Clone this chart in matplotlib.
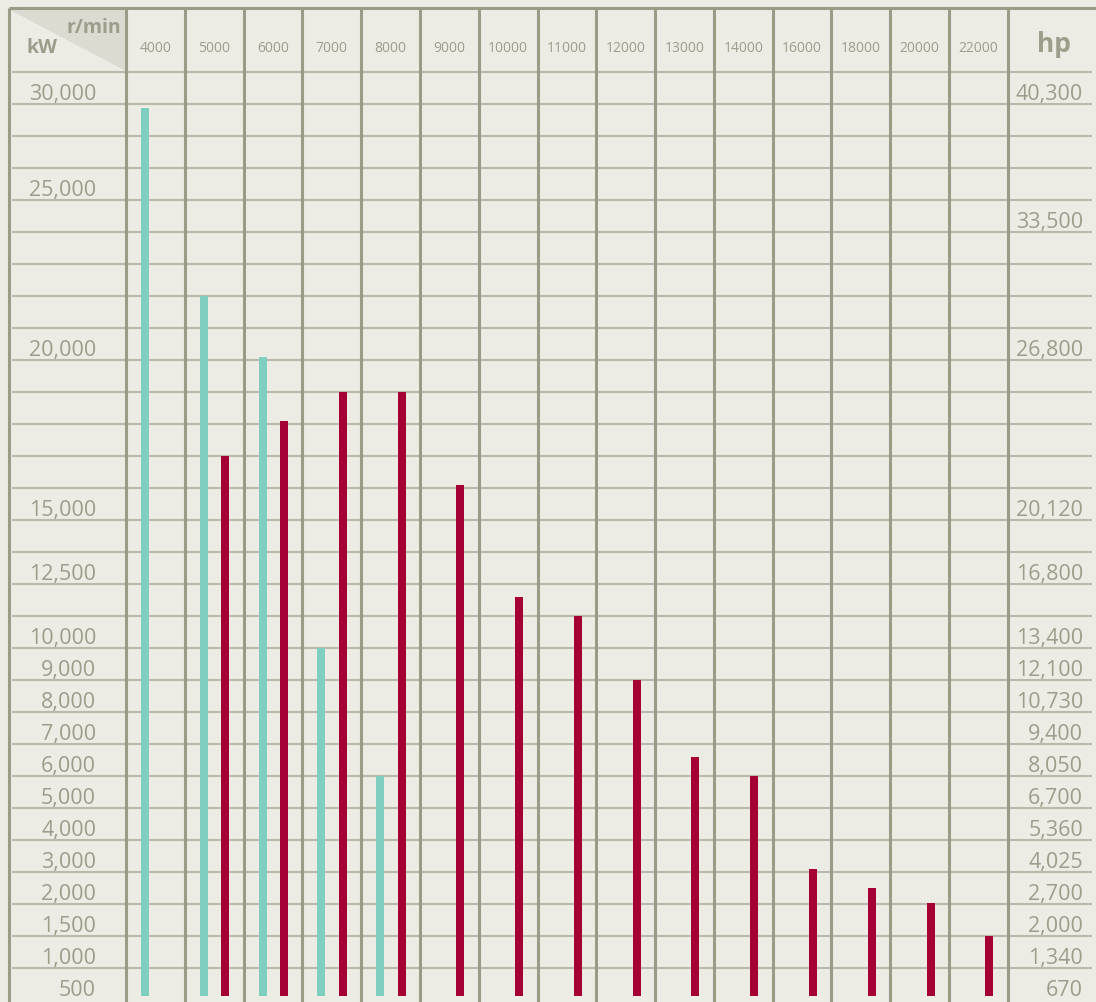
import numpy as np
import matplotlib
matplotlib.use("Agg")
import matplotlib.pyplot as plt
from matplotlib.patches import Polygon
from matplotlib import transforms

# --- data -------------------------------------------------------------
speeds = ["4000", "5000", "6000", "7000", "8000", "9000", "10000", "11000",
          "12000", "13000", "14000", "16000", "18000", "20000", "22000"]

# green series (only the first five speeds)
green_kw = [29800, 22000, 20100, 10000, 6000]
# red series (from 5000 r/min onwards)
red_kw = [17000, 18100, 19000, 19000, 16100, 12000, 11250, 9000,
          6600, 6000, 3100, 2500, 2050, 1500]

kw_ticks = [500, 1000, 1500, 2000, 3000, 4000, 5000, 6000, 7000, 8000,
            9000, 10000, 12500, 15000, 20000, 25000, 30000]
hp_ticks = ["670", "1,340", "2,000", "2,700", "4,025", "5,360", "6,700",
            "8,050", "9,400", "10,730", "12,100", "13,400", "16,800",
            "20,120", "26,800", "33,500", "40,300"]
# kW position at which each hp label sits (33,500 is one row lower)
hp_at_kw = [500, 1000, 1500, 2000, 3000, 4000, 5000, 6000, 7000, 8000,
            9000, 10000, 12500, 15000, 20000, 24000, 30000]

# --- non linear kW scale: each tick sits on a table row line -----------
ROWS = np.array([0, 1, 2, 3, 4, 5, 6, 7, 8, 9, 10, 11, 13, 15, 20, 25, 28], float)
KW = np.array(kw_ticks, float)


def fwd(v):
    v = np.asarray(v, dtype=float)
    r = np.interp(v, KW, ROWS)
    lo = ROWS[0] + (v - KW[0]) * (ROWS[1] - ROWS[0]) / (KW[1] - KW[0])
    hi = ROWS[-1] + (v - KW[-1]) * (ROWS[-1] - ROWS[-2]) / (KW[-1] - KW[-2])
    return np.where(v < KW[0], lo, np.where(v > KW[-1], hi, r))


def inv(r):
    r = np.asarray(r, dtype=float)
    v = np.interp(r, ROWS, KW)
    lo = KW[0] + (r - ROWS[0]) * (KW[1] - KW[0]) / (ROWS[1] - ROWS[0])
    hi = KW[-1] + (r - ROWS[-1]) * (KW[-1] - KW[-2]) / (ROWS[-1] - ROWS[-2])
    return np.where(r < ROWS[0], lo, np.where(r > ROWS[-1], hi, v))


# --- style ------------------------------------------------------------
BG = "#EDECE4"
VLINE = "#9B9B87"
HLINE = "#BBBAAA"
TXT = "#9D9D8B"
TRI = "#DCDBD2"
GREEN = "#7ECFBF"
RED = "#A50034"
plt.rcParams["font.family"] = ["Open Sans", "DejaVu Sans"]

fig = plt.figure(figsize=(10.96, 10.02), dpi=100, facecolor=BG)
ax = fig.add_axes([0, 0, 1, 1])
ax.set_yscale("function", functions=(fwd, inv))
ax.set_xlim(-2.643, 16.0)
ax.set_ylim(float(inv(-0.053)), float(inv(31.26)))
ax.axis("off")

x = np.arange(len(speeds))
bw = 0.136
ax.bar(x[:len(green_kw)] - 0.175, np.array(green_kw) - 560, bottom=560,
       width=bw, color=GREEN, zorder=3)
ax.bar(x[1:] + 0.187, np.array(red_kw) - 560, bottom=560,
       width=bw, color=RED, zorder=3)

# table grid
rows = inv(np.arange(1, 30))
ax.hlines(rows, -2.439, 15.93, color=HLINE, lw=1.5, zorder=1)
ax.vlines(np.arange(len(speeds) + 1) - 0.5, inv(-0.5), inv(31.0),
          color=VLINE, lw=2.2, zorder=2)
ax.vlines(-2.498, inv(-0.5), inv(31.0), color=VLINE, lw=2.2, zorder=2)
ax.hlines(inv(31.0), -2.498, 16.0, color=VLINE, lw=2.2, zorder=2)

# header corner triangle
tri = Polygon([(-2.473, float(inv(30.95))), (-0.5, float(inv(30.95))),
               (-0.5, float(inv(29.05)))], closed=True, color=TRI, lw=0, zorder=1)
ax.add_patch(tri)
ax.text(-0.585, float(inv(30.23)), "r/min", ha="right", va="baseline",
        fontsize=14, fontweight="bold", color=TXT, zorder=4)
ax.text(-2.184, float(inv(29.6)), "kW", ha="left", va="baseline",
        fontsize=14, fontweight="bold", color=TXT, zorder=4)
ax.text(15.28, float(inv(29.63)), "hp", ha="center", va="baseline",
        fontsize=19, fontweight="bold", color=TXT, zorder=4)

for i, s in enumerate(speeds):
    ax.text(i, float(inv(29.62)), s, ha="center", va="baseline",
            fontsize=10, color=TXT)

# row labels, baseline a few pixels above their row line
lift = transforms.offset_copy(ax.transData, fig=fig, y=4, units="dots")
for v in kw_ticks:
    ax.text(-1.01, v, f"{v:,}", ha="right", va="baseline", fontsize=15.5,
            color=TXT, transform=lift)
for v, lab in zip(hp_at_kw, hp_ticks):
    ax.text(15.78, v, lab, ha="right", va="baseline", fontsize=15.5,
            color=TXT, transform=lift)

fig.savefig("out.png", dpi=100, facecolor=BG)
